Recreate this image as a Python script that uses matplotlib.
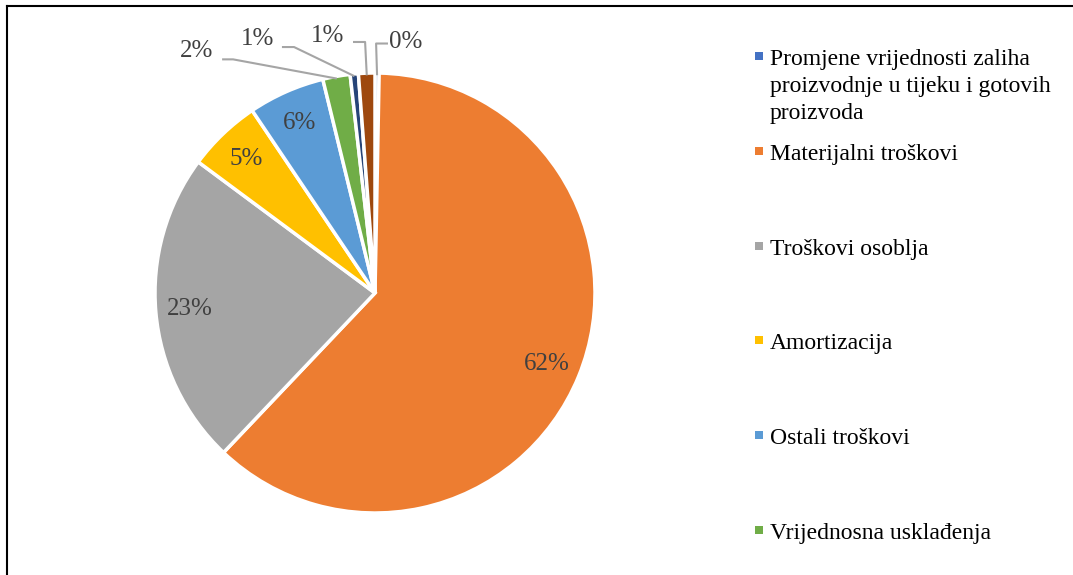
import numpy as np
import matplotlib
matplotlib.use("Agg")
import matplotlib.pyplot as plt
from matplotlib.lines import Line2D
from matplotlib.patches import Rectangle

# ---- data ----
categories = [
    "Promjene vrijednosti zaliha\nproizvodnje u tijeku i gotovih\nproizvoda",
    "Materijalni troškovi",
    "Troškovi osoblja",
    "Amortizacija",
    "Ostali troškovi",
    "Vrijednosna usklađenja",
    "Rezerviranja",
    "Ostali poslovni rashodi",
]
values = [0.3, 61.6, 23.0, 5.4, 5.6, 2.0, 0.6, 1.2]
colors = ["#4472C4", "#ED7D31", "#A5A5A5", "#FFC000", "#5B9BD5", "#70AD47", "#264478", "#9E480E"]
pct_labels = [f"{round(v / sum(values) * 100):.0f}%" for v in values]

plt.rcParams['font.family'] = ['Liberation Serif', 'DejaVu Serif']

W, H = 1073, 575
fig = plt.figure(figsize=(W / 100, H / 100), dpi=100)
fig.patch.set_facecolor("white")

cx, cy, R = 375, 293, 220
ax = fig.add_axes([(cx - R) / W, (H - cy - R) / H, 2 * R / W, 2 * R / H])

wedges, _ = ax.pie(values, colors=colors, startangle=90, counterclock=False,
                   radius=1.0, wedgeprops=dict(edgecolor="white", linewidth=2.5))
ax.set_xlim(-1, 1)
ax.set_ylim(-1, 1)
ax.axis("off")
for w in wedges:
    w.set_clip_on(False)

label_color = "#404040"
inner = [1, 2, 3, 4]
for i in inner:
    w = wedges[i]
    mid = np.deg2rad((w.theta1 + w.theta2) / 2)
    r = 0.845
    ax.text(r * np.cos(mid), r * np.sin(mid), pct_labels[i], ha="center", va="center",
            fontsize=18, color=label_color)

# outer labels with leader lines: (index, text x, text y, line start x, elbow x, line y)
outer = [
    (5, -0.809, 1.10, -0.695, -0.645, 1.062),
    (6, -0.532, 1.155, -0.423, -0.368, 1.118),
    (7, -0.214, 1.168, -0.100, -0.045, 1.141),
    (0, 0.141, 1.141, 0.059, 0.005, 1.134),
]
for i, tx, ty, lx, ex, ly in outer:
    w = wedges[i]
    mid = np.deg2rad((w.theta1 + w.theta2) / 2)
    px, py = np.cos(mid) * 0.99, np.sin(mid) * 0.99
    ax.plot([lx, ex, px], [ly, ly, py], color="#A5A5A5", lw=1.5, clip_on=False,
            solid_capstyle="butt")
    ax.text(tx, ty, pct_labels[i], ha="center", va="center", fontsize=18,
            color=label_color, clip_on=False)

# legend (first six entries visible, rest cut off)
leg_y = [56, 151, 246, 340, 435, 530]
for i, y in enumerate(leg_y):
    fig.add_artist(Rectangle((755 / W, (H - y - 4) / H), 8 / W, 8 / H,
                             transform=fig.transFigure, facecolor=colors[i], edgecolor="none"))
    fig.text(770 / W, (H - y + 7) / H, categories[i], ha="left", va="top",
             fontsize=17, color="black", linespacing=1.39)

# frame (top & left edges visible)
fig.add_artist(Line2D([7 / W, 1.0], [(H - 6) / H, (H - 6) / H], transform=fig.transFigure,
                      color="black", lw=1.5))
fig.add_artist(Line2D([7 / W, 7 / W], [0, (H - 6) / H], transform=fig.transFigure,
                      color="black", lw=1.5))

fig.savefig("out.png", dpi=100, facecolor="white")
